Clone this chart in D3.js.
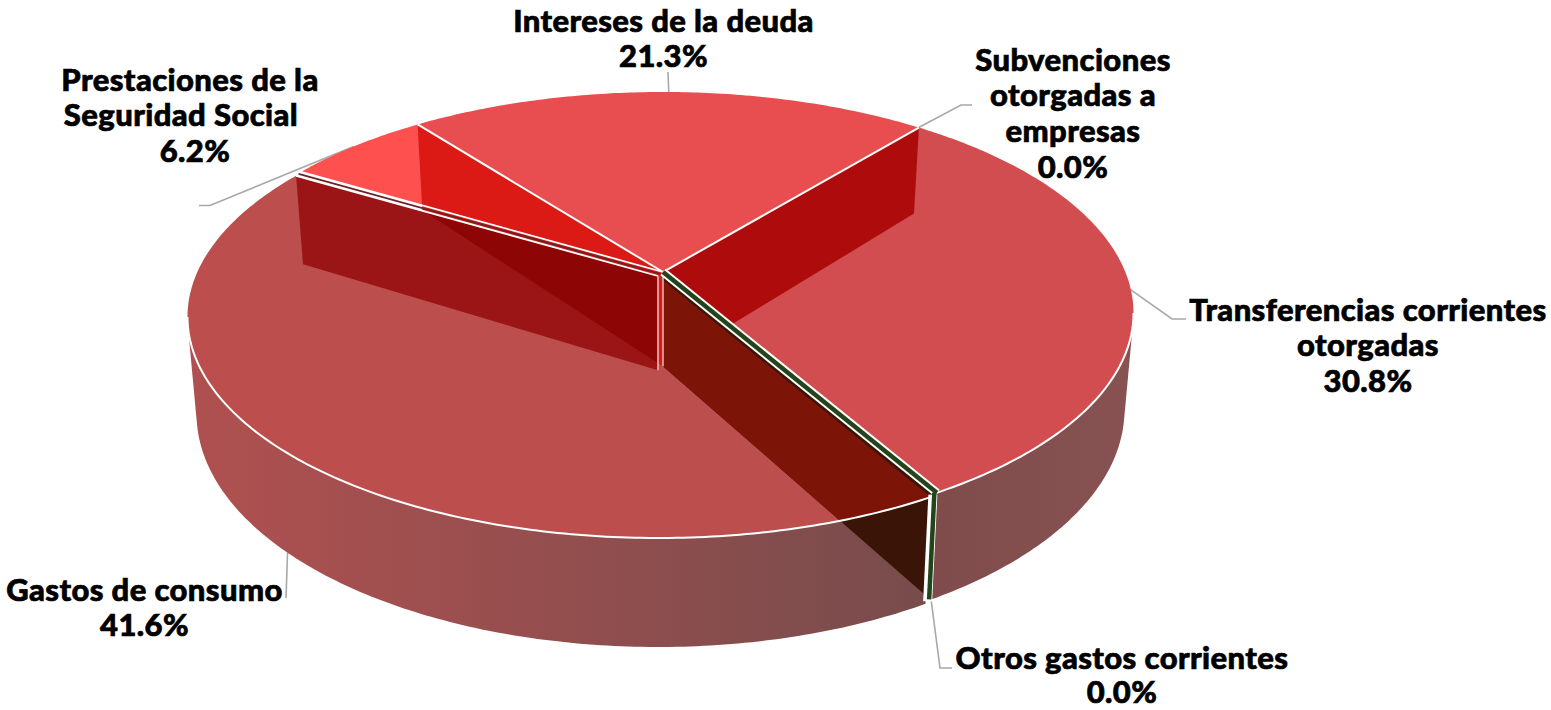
<!DOCTYPE html>
<html><head><meta charset="utf-8">
<script src="https://cdn.jsdelivr.net/npm/d3@7/dist/d3.min.js"></script>
<style>html,body{margin:0;padding:0;background:#fff}svg{display:block}
text{font-family:Lato,sans-serif;font-weight:900;font-size:31px;letter-spacing:.4px;fill:#000;stroke:#000;stroke-width:.7px;text-anchor:middle}</style>
</head><body><svg id="c" width="1551" height="710"></svg>
<script>
const categories=["Subvenciones otorgadas a empresas","Transferencias corrientes otorgadas","Otros gastos corrientes","Gastos de consumo","Prestaciones de la Seguridad Social","Intereses de la deuda"];
const values=[0.02,30.8,0.04,41.6,6.2,21.3];
const shares=["0.0%","30.8%","0.0%","41.6%","6.2%","21.3%"];
const labelLines=[["Subvenciones","otorgadas a","empresas"],["Transferencias corrientes","otorgadas"],["Otros gastos corrientes"],["Gastos de consumo"],["Prestaciones de la","Seguridad Social"],["Intereses de la deuda"]];

// layout
const TOP={cx:663,cy:313,rx:470.5,ry:221}, BOT={cx:663,cy:409.5,rx:461.5,ry:233.5};
const A=-0.1855, S=Math.sqrt(1-A*A);
const GOFF={dx:-5,dy:4}, NOOFF={dx:0,dy:0};
const startDeg=39.2, endNudge=0.014;
const labelPos=[[1073,70.5],[1368,320.5],[1122,668.5],[144.5,600.5],[190,90.5],[663.5,31.5]];
const lineShift={4:[0,-9,5]};
const lineHeights=[35.7,35.7,34.5,35.7,35.7,35.7];
const elbows=[[[961,105],[972,105]],[[1172,319],[1186,319]],[[940,668],[952,668]],[[286,598]],[[210,205.5],[199,205.5]],[[668,72]]];

const svg=d3.select("#c");
const pie=d3.pie().value(d=>d).sort(null).startAngle(startDeg*Math.PI/180).endAngle(startDeg*Math.PI/180+2*Math.PI);
const arcs=pie(values);
function P(t,pl,r=1,o=NOOFF){const u=r*Math.sin(t),v=-r*Math.cos(t),w=1+A*v;
  return [pl.cx+pl.rx*u*S/w+o.dx,pl.cy+pl.ry*(v+A)/w+o.dy];}
const line=d3.line();
function rim(a,b,pl,o){const n=Math.max(2,Math.ceil(Math.abs(b-a)*80));return d3.range(n+1).map(i=>P(a+(b-a)*i/n,pl,1,o));}
const topPath=(a,b,o)=>line([P(0,TOP,0,o),...rim(a,b,TOP,o)])+"Z";
const wallHull=(a,b,o)=>line(d3.polygonHull([...rim(a,b,TOP,o),...rim(a,b,BOT,o)]))+"Z";
const wallIn=(t,o)=>line([P(t,TOP,1,o),P(0,TOP,0,o),P(0,BOT,0,o),P(t,BOT,1,o)])+"Z";
const seg=(t,pl,o)=>line([P(0,pl,0,o),P(t,pl,1,o)]);
const [sub,tra,otr,gas,pre,int]=arcs;
const gasEnd=gas.endAngle+endNudge;
// angles where the rim reaches its widest point, left and right
const tanR=Math.PI-Math.acos(-A), tanL=Math.PI+Math.acos(-A);

const defs=svg.append("defs");
function grad(id,c1,c2,x1,x2){const g=defs.append("linearGradient").attr("id",id).attr("gradientUnits","userSpaceOnUse").attr("x1",x1).attr("x2",x2).attr("y1",0).attr("y2",0);
 g.append("stop").attr("offset",0).attr("stop-color",c1);g.append("stop").attr("offset",1).attr("stop-color",c2);}
grad("gG","#b05050","#784c4c",190,925);grad("gT","#7f4b4b","#885252",935,1133);
defs.append("clipPath").attr("id","cpG").append("path").attr("d",topPath(gas.startAngle,gasEnd,GOFF));
defs.append("clipPath").attr("id","cpW").append("path").attr("d",wallIn(gasEnd,GOFF));

// leader lines
const lead=svg.append("g").attr("fill","none").attr("stroke","#a8a8a8").attr("stroke-width",1.6);
const mids=arcs.map(d=>(d.startAngle+d.endAngle)/2);
arcs.forEach((d,i)=>{
  let s;
  if(i===3) s=P(mids[i],BOT,1,GOFF); else if(i===2) s=P(mids[i],BOT,1); else s=P(mids[i],TOP,1);
  lead.append("path").attr("d",line([s,...elbows[i]]));
});

// outer walls
svg.append("path").attr("d",wallHull(tanR,tra.endAngle,NOOFF)).attr("fill","url(#gT)");
svg.append("path").attr("d",wallHull(gas.startAngle,tanL,GOFF)).attr("fill","url(#gG)");

// tops
const tops=svg.append("g");
tops.append("path").attr("d",topPath(tra.startAngle,tra.endAngle)).attr("fill","#d14d4f");
tops.append("path").attr("d",topPath(gas.startAngle,gasEnd,GOFF)).attr("fill","#bc4f4e");
tops.append("path").attr("d",topPath(gasEnd,pre.endAngle)).attr("fill","#ff5050");
tops.append("path").attr("d",topPath(int.startAngle,int.endAngle)).attr("fill","#e84e50");

// inner walls
const w=svg.append("g");
w.append("path").attr("d",wallIn(sub.endAngle)).attr("fill","#ae0c0c");
w.append("path").attr("d",wallIn(int.startAngle)).attr("fill","#db1a16");
w.append("path").attr("d",wallIn(gasEnd,GOFF)).attr("fill","#9b1416");
w.append("path").attr("d",wallIn(int.startAngle)).attr("fill","#8e0505").attr("clip-path","url(#cpW)");
w.append("path").attr("d",wallIn(gas.startAngle)).attr("fill","#3a1507");
w.append("g").attr("clip-path","url(#cpG)").append("path").attr("d",wallIn(gas.startAngle)).attr("fill","#7d1408");

// edges
const e=svg.append("g").attr("fill","none").attr("stroke-linecap","butt");
e.append("path").attr("d",line(rim(gas.startAngle,tanL,TOP,GOFF))).attr("stroke","#fff").attr("stroke-width",2);
e.append("path").attr("d",line(rim(tanR,tra.endAngle,TOP))).attr("stroke","#fff").attr("stroke-width",2);
e.append("path").attr("d",seg(sub.endAngle,TOP)).attr("stroke","#fff").attr("stroke-width",2);
e.append("path").attr("d",seg(int.startAngle,TOP)).attr("stroke","#fff").attr("stroke-width",2);
// gap between Prestaciones and Gastos
e.append("path").attr("d",seg(gasEnd,TOP)).attr("stroke","#fff").attr("stroke-width",1.8);
e.append("path").attr("d",line([P(gasEnd,TOP,1,{dx:-2.5,dy:2}),P(0,TOP,0,{dx:-2.5,dy:2})])).attr("stroke","#6d2226").attr("stroke-width",1.8);
e.append("path").attr("d",seg(gasEnd,TOP,GOFF)).attr("stroke","#fff").attr("stroke-width",1.8);
// vertical centre edges
e.append("path").attr("d",line([P(0,TOP,0,GOFF),P(0,BOT,0,GOFF)])).attr("stroke","#e2a8a8").attr("stroke-width",1.8);
e.append("path").attr("d",line([P(0,TOP,0),P(0,BOT,0)])).attr("stroke","#e2b0b0").attr("stroke-width",1.6);
// Otros gastos corrientes: top strip and wall strip
const ot=otr.startAngle;
e.append("path").attr("d",seg(ot,TOP)).attr("stroke","#fff").attr("stroke-width",8.5);
e.append("path").attr("d",seg(ot,TOP)).attr("stroke","#24441c").attr("stroke-width",4.5);
e.append("path").attr("d",line([P(ot,TOP,1,{dx:-4,dy:2}),P(ot,BOT,1,{dx:-4,dy:2})])).attr("stroke","#fff").attr("stroke-width",9);
e.append("path").attr("d",line([P(ot,TOP,1,{dx:-2.5,dy:0}),P(ot,BOT,1,{dx:-2.5,dy:0})])).attr("stroke","#24441c").attr("stroke-width",4.5);

// labels
const t=svg.append("g");
arcs.forEach((d,i)=>{
  const ls=[...labelLines[i],shares[i]];
  ls.forEach((s,j)=>t.append("text").attr("x",labelPos[i][0]+((lineShift[i]||[])[j]||0)).attr("y",labelPos[i][1]+j*lineHeights[i]).text(s));
});
</script></body></html>
